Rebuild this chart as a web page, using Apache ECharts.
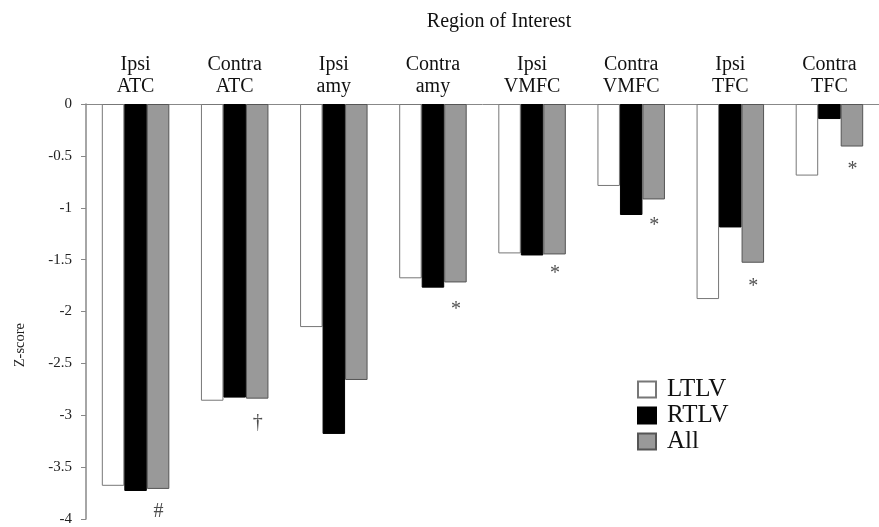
<!DOCTYPE html>
<html><head><meta charset="utf-8">
<script src="https://cdn.jsdelivr.net/npm/echarts@6/dist/echarts.min.js"></script>
<style>html,body{margin:0;padding:0;background:#fff}#c{width:879px;height:527px}</style>
</head><body><div id="c"></div>
<script>
const categories = ['Ipsi\nATC','Contra\nATC','Ipsi\namy','Contra\namy','Ipsi\nVMFC','Contra\nVMFC','Ipsi\nTFC','Contra\nTFC'];
const ltlv = [-3.68,-2.86,-2.15,-1.68,-1.44,-0.79,-1.88,-0.69];
const rtlv = [-3.73,-2.83,-3.18,-1.77,-1.46,-1.07,-1.19,-0.145];
const all  = [-3.71,-2.84,-2.66,-1.72,-1.45,-0.92,-1.53,-0.41];
const marks = ['#','†','','*','*','*','*','*'];
const markY = [-3.93,-3.07,null,-1.98,-1.64,-1.17,-1.76,-0.63];
const yTicks = {min:-4,max:0,interval:0.5};

const serif = '"Liberation Serif","Times New Roman",serif';
const markData = [];
marks.forEach((m,i)=>{ if(m) markData.push({value:[categories[i], markY[i]], label:{formatter:m}}); });

const chart = echarts.init(document.getElementById('c'));
chart.setOption({
  animation:false,
  backgroundColor:'#fff',
  title:{text:'Region of Interest', left:494, top:7, textAlign:'center',
    textStyle:{fontFamily:serif, fontSize:20, fontWeight:'normal', color:'#111'}},
  legend:{orient:'vertical', left:632, top:372, itemWidth:18, itemHeight:16, itemGap:1,
    icon:'rect',
    data:['LTLV','RTLV','All'],
    textStyle:{fontFamily:serif, fontSize:25, lineHeight:24, color:'#111', padding:[0,0,0,6]}},
  grid:{left:86, top:104, width:801, height:415, containLabel:false},
  xAxis:{type:'category', data:categories, position:'top',
    axisLine:{lineStyle:{color:'#888', width:1}},
    axisTick:{inside:true, length:4, lineStyle:{color:'#888'}},
    axisLabel:{fontFamily:serif, fontSize:20, color:'#111', lineHeight:22, margin:6}},
  yAxis:{type:'value', min:yTicks.min, max:yTicks.max, interval:yTicks.interval,
    splitLine:{show:false},
    axisLine:{show:true, lineStyle:{color:'#888', width:1.5}},
    axisTick:{show:true, length:5, lineStyle:{color:'#888'}},
    axisLabel:{fontFamily:serif, fontSize:15, color:'#222', margin:14}},
  graphic:[{type:'text', left:13, top:323, rotation:Math.PI/2,
    style:{text:'Z-score', fontFamily:serif, fontSize:14.5, fill:'#222'}}],
  series:[
    {name:'LTLV', type:'bar', data:ltlv, barWidth:22.5, barGap:'0%',
      itemStyle:{color:'#fff', borderColor:'#777', borderWidth:1}},
    {name:'RTLV', type:'bar', data:rtlv, barWidth:22.5, barGap:'0%',
      itemStyle:{color:'#000', borderColor:'#000', borderWidth:1}},
    {name:'All', type:'bar', data:all, barWidth:22.5, barGap:'0%',
      itemStyle:{color:'#999', borderColor:'#555', borderWidth:1}},
    {name:'marks', type:'scatter', data:markData, symbolSize:0, silent:true,
      label:{show:true, position:'inside', offset:[23,0], fontFamily:serif, fontSize:20, color:'#222'}}
  ]
});
</script></body></html>
